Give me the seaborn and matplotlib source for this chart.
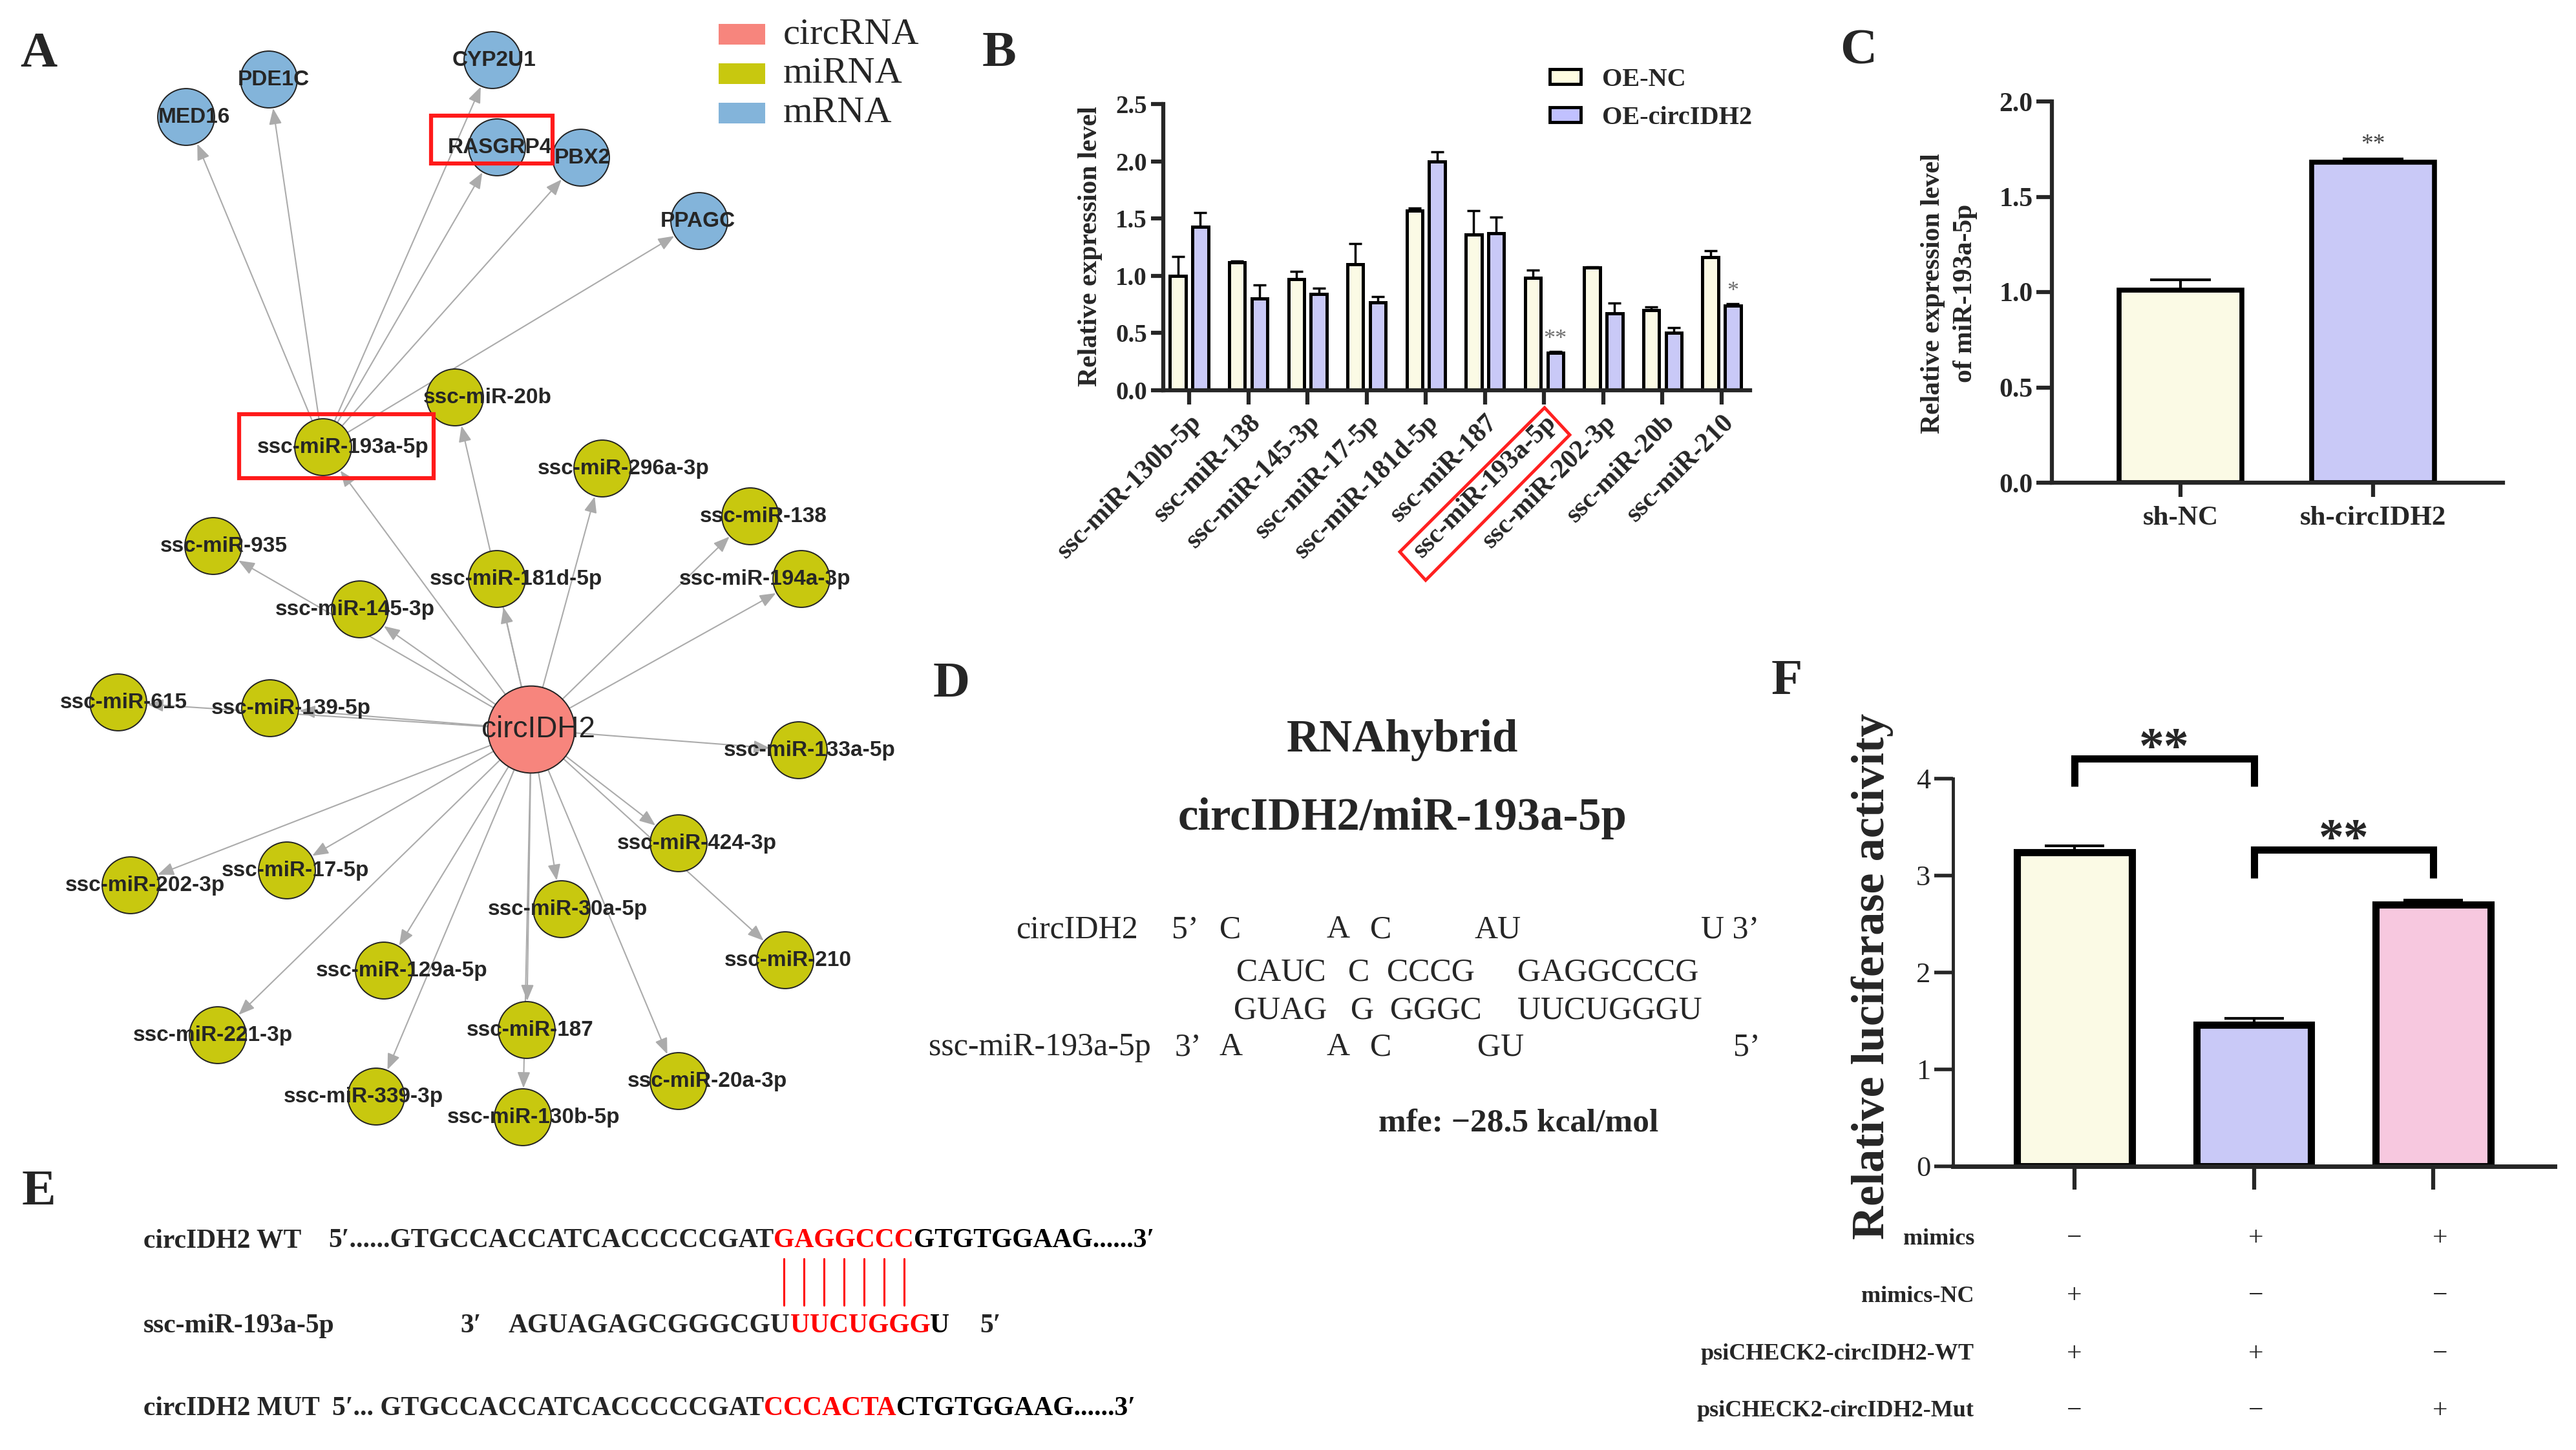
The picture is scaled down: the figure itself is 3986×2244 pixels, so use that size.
import matplotlib
matplotlib.use("Agg")
import matplotlib.pyplot as plt
import matplotlib.patches as mpatches
from matplotlib import font_manager
import seaborn as sns
import pandas as pd
import numpy as np

# ---------------- data ----------------
# Panel A: circRNA-miRNA-mRNA network (layout in reference pixels)
node_names = ["circIDH2",
              "ssc-miR-20b", "ssc-miR-193a-5p", "ssc-miR-296a-3p", "ssc-miR-138", "ssc-miR-935",
              "ssc-miR-181d-5p", "ssc-miR-194a-3p", "ssc-miR-145-3p", "ssc-miR-615", "ssc-miR-139-5p",
              "ssc-miR-133a-5p", "ssc-miR-424-3p", "ssc-miR-202-3p", "ssc-miR-17-5p", "ssc-miR-30a-5p",
              "ssc-miR-210", "ssc-miR-129a-5p", "ssc-miR-221-3p", "ssc-miR-187", "ssc-miR-20a-3p",
              "ssc-miR-339-3p", "ssc-miR-130b-5p",
              "MED16", "PDE1C", "CYP2U1", "RASGRP4", "PBX2", "PPAGC"]
node_kind = ["circRNA"] + ["miRNA"] * 22 + ["mRNA"] * 6
node_x = [822, 704, 500, 932, 1161, 330, 769, 1240, 557, 183, 418, 1236, 1050, 202, 444, 869,
          1215, 594, 337, 815, 1050, 582, 809, 288, 416, 762, 769, 899, 1082]
node_y = [1129, 615, 692, 725, 799, 845, 896, 896, 943, 1087, 1096, 1161, 1305, 1370, 1347, 1407,
          1486, 1502, 1602, 1594, 1673, 1697, 1729, 181, 123, 93, 228, 244, 342]
label_x = [833, 754, 531, 965, 1181, 346, 798, 1184, 549, 191, 450, 1253, 1078, 224, 457, 878,
           1219, 622, 329, 820, 1094, 562, 826, 300, 423, 765, 773, 901, 1080]
hub_mirna = "ssc-miR-193a-5p"
kind_colors = {"circRNA": "#F7857D", "miRNA": "#C8C80F", "mRNA": "#83B4DA"}

# Panel B
b_mirnas = ["ssc-miR-130b-5p", "ssc-miR-138", "ssc-miR-145-3p", "ssc-miR-17-5p", "ssc-miR-181d-5p",
            "ssc-miR-187", "ssc-miR-193a-5p", "ssc-miR-202-3p", "ssc-miR-20b", "ssc-miR-210"]
b_nc = [1.00, 1.12, 0.97, 1.10, 1.57, 1.36, 0.98, 1.07, 0.70, 1.16]
b_nc_err = [0.17, 0.01, 0.07, 0.18, 0.02, 0.21, 0.07, 0.01, 0.03, 0.06]
b_oe = [1.43, 0.80, 0.84, 0.77, 2.00, 1.37, 0.33, 0.67, 0.50, 0.74]
b_oe_err = [0.12, 0.12, 0.05, 0.05, 0.08, 0.14, 0.01, 0.09, 0.05, 0.015]
b_sig = ["", "", "", "", "", "", "**", "", "", "*"]
b_groups = ["OE-NC", "OE-circIDH2"]

# Panel C
c_groups = ["sh-NC", "sh-circIDH2"]
c_vals = [1.01, 1.68]
c_err = [0.055, 0.02]

# Panel F
f_vals = [3.24, 1.46, 2.70]
f_err = [0.07, 0.065, 0.045]
f_brackets = [(0, 1, 4.21, 3.92), (1, 2, 3.27, 2.975)]
f_rows = ["mimics", "mimics-NC", "psiCHECK2-circIDH2-WT", "psiCHECK2-circIDH2-Mut"]
f_signs = [["−", "+", "+"], ["+", "−", "−"], ["+", "+", "−"], ["−", "−", "+"]]

cream, lavender, pink = "#FFFDE1", "#C1C1FF", "#FFC0DF"

# ---------------- style ----------------
W, H = 3986, 2244
sns.set_style("ticks")
serif = ["Liberation Serif", "DejaVu Serif"]
plt.rcParams["font.family"] = serif
names = {f.name for f in font_manager.fontManager.ttflist}
if "Liberation Sans Narrow" in names:
    net_family, net_size, hub_size = "Liberation Sans Narrow", 28, 38
else:
    net_family, net_size, hub_size = "Liberation Sans", 24, 33

fig = plt.figure(figsize=(W / 100, H / 100), dpi=100)


def rect(l, t, r, b):
    return [l / W, 1 - b / H, (r - l) / W, (b - t) / H]


# overlay in reference pixel coordinates
ov = fig.add_axes([0, 0, 1, 1])

# ---------------- A: network ----------------
nodes = pd.DataFrame({"name": node_names, "kind": node_kind, "x": node_x, "y": node_y})
pos = dict(zip(node_names, zip(node_x, node_y)))
kind_of = dict(zip(node_names, node_kind))
rad = {"circRNA": 48, "miRNA": 31.5, "mRNA": 31.5}
edges = [("circIDH2", n) for n, k in zip(node_names, node_kind) if k == "miRNA"]
edges += [(hub_mirna, n) for n, k in zip(node_names, node_kind) if k == "mRNA"]
for s, d in edges:
    ov.annotate("", xy=pos[d], xytext=pos[s],
                arrowprops=dict(arrowstyle="-|>,head_length=0.75,head_width=0.3", color="#ababab",
                                lw=1.5, shrinkA=rad[kind_of[s]], shrinkB=rad[kind_of[d]] + 1,
                                mutation_scale=20), zorder=1)
sns.scatterplot(data=nodes, x="x", y="y", hue="kind", size="kind",
                sizes={"circRNA": 9400, "miRNA": 4000, "mRNA": 4000},
                palette=kind_colors, edgecolor="#222222", linewidth=1.4, legend=False, ax=ov, zorder=3)
for n, k, lx, y in zip(node_names, node_kind, label_x, node_y):
    if k == "circRNA":
        ov.text(lx, y, n, ha="center", va="center", family=net_family, fontsize=hub_size, zorder=4)
    else:
        ov.text(lx, y, n, ha="center", va="center", family=net_family, fontweight="bold",
                fontsize=net_size, zorder=4)
ov.add_patch(mpatches.Rectangle((667, 179), 188, 74, fill=False, ec="#ff1a1a", lw=4.5, zorder=5))
ov.add_patch(mpatches.Rectangle((370, 641), 301, 99, fill=False, ec="#ff1a1a", lw=4.5, zorder=5))
for i, k in enumerate(["circRNA", "miRNA", "mRNA"]):
    y0 = 37 + i * 61
    ov.add_patch(mpatches.Rectangle((1112, y0), 72, 32, color=kind_colors[k], lw=0))
    ov.text(1212, y0 + 16, k, ha="left", va="center", fontsize=42)

# ---------------- D: RNAhybrid ----------------
ov.text(2170, 1145, "RNAhybrid", ha="center", va="center", fontsize=51, fontweight="bold")
ov.text(2170, 1266, "circIDH2/miR-193a-5p", ha="center", va="center", fontsize=51, fontweight="bold")
d_rows = [
    (1439, [("circIDH2", 1761, "right"), ("5’", 1813, "left"), ("C", 1887, "left"), ("A", 2053, "left"),
            ("C", 2120, "left"), ("AU", 2282, "left"), ("U 3’", 2632, "left")]),
    (1505, [("CAUC", 1913, "left"), ("C", 2086, "left"), ("CCCG", 2146, "left"), ("GAGGCCCG", 2348, "left")]),
    (1564, [("GUAG", 1909, "left"), ("G", 2090, "left"), ("GGGC", 2151, "left"), ("UUCUGGGU", 2348, "left")]),
    (1621, [("ssc-miR-193a-5p", 1781, "right"), ("3’", 1818, "left"), ("A", 1887, "left"), ("A", 2053, "left"),
            ("C", 2120, "left"), ("GU", 2286, "left"), ("5’", 2682, "left")]),
]
for y, toks in d_rows:
    for t, x, ha in toks:
        ov.text(x, y, t, ha=ha, va="center", fontsize=36)
ov.text(2133, 1739, "mfe: −28.5 kcal/mol", ha="left", va="center", fontsize=37, fontweight="bold")

# ---------------- E: sequences ----------------
ef = dict(fontsize=30, fontweight="bold", family=serif)


def chain(first, pieces):
    prev = first
    for txt, col in pieces:
        prev = ov.annotate(txt, xy=(1, 0), xycoords=prev, ha="left", va="bottom", color=col, **ef)
    return prev


ov.text(222, 1920, "circIDH2 WT", ha="left", va="center", **ef)
wt = ov.text(508, 1920, "5′......GTGCCACCATCACCCCCGAT", ha="left", va="center", **ef)
red_wt = ov.annotate("GAGGCCC", xy=(1, 0), xycoords=wt, ha="left", va="bottom", color="red", **ef)
chain(red_wt, [("GTGTGGAAG......3′", "black")])

ov.text(222, 2052, "ssc-miR-193a-5p", ha="left", va="center", **ef)
ov.text(712, 2052, "3′", ha="left", va="center", **ef)
mi = ov.text(787, 2052, "AGUAGAGCGGGCGU", ha="left", va="center", **ef)
chain(mi, [("UUCUGGG", "red"), ("U", "black")])
ov.text(1516, 2052, "5′", ha="left", va="center", **ef)

ov.text(222, 2180, "circIDH2 MUT", ha="left", va="center", **ef)
mu = ov.text(514, 2180, "5′... GTGCCACCATCACCCCCGAT", ha="left", va="center", **ef)
chain(mu, [("CCCACTA", "red"), ("CTGTGGAAG......3′", "black")])

# panel letters
for letter, x, y in [("A", 60, 84), ("B", 1546, 83), ("C", 2876, 80), ("D", 1472, 1059),
                     ("E", 60, 1845), ("F", 2765, 1055)]:
    ov.text(x, y, letter, ha="center", va="center", fontsize=57, fontweight="bold")

# red box around B tick label
ov.add_patch(mpatches.Polygon([(2166, 854), (2206, 898), (2429, 673), (2390, 631)], closed=True,
                              fill=False, ec="#ff2020", lw=3.5))

# F table
row_y = [1917, 2006, 2096, 2184]
col_x = [3210, 3491, 3776]
for lbl, y, signs in zip(f_rows, row_y, f_signs):
    ov.text(3055, y, lbl, ha="right", va="center", fontsize=26, fontweight="bold")
    for x, s in zip(col_x, signs):
        ov.text(x, y, s, ha="center", va="center", fontsize=30)

ov.set_xlim(0, W)
ov.set_ylim(H, 0)
ov.axis("off")

# ---------------- B ----------------
axB = fig.add_axes(rect(1800, 161, 2708, 604))
axB.set_facecolor("none")
dfB = pd.DataFrame({"miRNA": b_mirnas * 2, "group": [b_groups[0]] * 10 + [b_groups[1]] * 10,
                    "value": b_nc + b_oe})
sns.barplot(data=dfB, x="miRNA", y="value", hue="group", palette=[cream, lavender], width=0.76, gap=0.3,
            edgecolor="black", linewidth=3.6, errorbar=None, legend=False, ax=axB, zorder=2)
for cont, err in zip(axB.containers, [b_nc_err, b_oe_err]):
    xs = [p.get_x() + p.get_width() / 2 for p in cont]
    ys = [p.get_height() for p in cont]
    axB.errorbar(xs, ys, yerr=[np.zeros(len(err)), err], fmt="none", ecolor="black", elinewidth=2.5,
                 capsize=7, capthick=2.5, zorder=1)
oe_x = [p.get_x() + p.get_width() / 2 for p in axB.containers[1]]
for x, v, e, s in zip(oe_x, b_oe, b_oe_err, b_sig):
    if s:
        axB.text(x, v + e + 0.01, s, ha="center", va="bottom", fontsize=26, color="#6e6e6e")
axB.set_xlim(-0.437, 9.48)
axB.set_ylim(0, 2.5)
axB.set_yticks(np.arange(0, 2.51, 0.5))
axB.set_yticklabels([f"{v:.1f}" for v in np.arange(0, 2.51, 0.5)], fontsize=28, fontweight="bold")
axB.set_xticks(range(len(b_mirnas)))
axB.set_xticklabels(b_mirnas, rotation=45, ha="right", va="top", rotation_mode="anchor",
                    fontsize=30, fontweight="bold")
axB.set_xlabel("")
axB.set_ylabel("Relative expression level", fontsize=30, fontweight="bold", va="center")
axB.yaxis.set_label_coords(-0.124, 0.503)
sns.despine(ax=axB)
for sp in ["left", "bottom"]:
    axB.spines[sp].set_linewidth(4.5)
axB.tick_params(axis="x", length=16, width=4.5, pad=6)
axB.tick_params(axis="y", length=14, width=4.5, pad=4)
handles = [mpatches.Patch(facecolor=c, edgecolor="black", linewidth=3.5, label=g)
           for c, g in zip([cream, lavender], b_groups)]
axB.legend(handles=handles, loc="upper left", bbox_to_anchor=(2398 / W, 1 - 105 / H),
           bbox_transform=fig.transFigure, frameon=False, handlelength=1.2, handleheight=0.5,
           labelspacing=0.55, handletextpad=0.8, borderpad=0, borderaxespad=0,
           prop=dict(family=serif, weight="bold", size=29))

# ---------------- C ----------------
axC = fig.add_axes(rect(3175, 157, 3873, 747))
axC.set_facecolor("none")
sns.barplot(x=c_groups, y=c_vals, hue=c_groups, palette=[cream, lavender], width=0.635,
            edgecolor="black", linewidth=5.5, legend=False, ax=axC, zorder=2)
cx = [p.get_x() + p.get_width() / 2 for p in axC.patches]
axC.errorbar(cx, c_vals, yerr=[np.zeros(2), c_err], fmt="none", ecolor="black", elinewidth=3,
             capsize=34, capthick=3, zorder=1)
axC.text(cx[1], c_vals[1] + c_err[1] + 0.015, "**", ha="center", va="bottom", fontsize=27,
         color="#444444")
axC.set_xlim(-0.668, 1.674)
axC.set_ylim(0, 2.0)
axC.set_yticks(np.arange(0, 2.01, 0.5))
axC.set_yticklabels([f"{v:.1f}" for v in np.arange(0, 2.01, 0.5)], fontsize=30, fontweight="bold")
axC.set_xticks([0, 1])
axC.set_xticklabels(c_groups, fontsize=31, fontweight="bold")
axC.set_ylabel("Relative expression level\nof miR-193a-5p", fontsize=30, fontweight="bold",
               va="center", linespacing=1.4)
axC.yaxis.set_label_coords(-0.228, 0.497)
sns.despine(ax=axC)
for sp in ["left", "bottom"]:
    axC.spines[sp].set_linewidth(4.5)
axC.tick_params(axis="x", length=16, width=4.5, pad=10)
axC.tick_params(axis="y", length=17, width=4.5, pad=4)

# ---------------- F ----------------
axF = fig.add_axes(rect(3022, 1205, 3953, 1805))
axF.set_facecolor("none")
f_x = [0, 1, 2]
sns.barplot(x=f_x, y=f_vals, hue=f_x, palette=[cream, lavender, pink], width=0.64,
            edgecolor="black", linewidth=8, legend=False, ax=axF, zorder=2)
fx = [p.get_x() + p.get_width() / 2 for p in axF.patches]
axF.errorbar(fx, f_vals, yerr=[np.zeros(3), f_err], fmt="none", ecolor="black", elinewidth=3,
             capsize=33, capthick=3, zorder=1)
for x1, x2, top, low in f_brackets:
    axF.plot([x1, x1, x2, x2], [low, top, top, low], color="black", lw=8, clip_on=False,
             solid_joinstyle="miter", solid_capstyle="butt")
    axF.text((x1 + x2) / 2, top - 0.04, "**", ha="center", va="baseline", fontsize=56,
             fontweight="bold", clip_on=False)
axF.set_xlim(-0.677, 2.677)
axF.set_ylim(0, 4)
axF.set_yticks(range(5))
axF.set_yticklabels([str(v) for v in range(5)], fontsize=32)
axF.set_xticks(f_x)
axF.set_xticklabels(["", "", ""])
axF.set_ylabel("Relative luciferase activity", fontsize=52, fontweight="bold", va="center")
axF.yaxis.set_label_coords(-0.134, 0.49)
sns.despine(ax=axF)
axF.spines["left"].set_linewidth(3.5)
axF.spines["bottom"].set_linewidth(5)
axF.tick_params(axis="x", length=26, width=4.5)
axF.tick_params(axis="y", length=21, width=4, pad=4)

# red pairing lines in E, under each red base of the WT row
fig.canvas.draw()
bb = red_wt.get_window_extent()
(x0, _), (x1, _) = ov.transData.inverted().transform([[bb.x0, bb.y0], [bb.x1, bb.y1]])
step = (x1 - x0) / 7
for i in range(7):
    xc = x0 + (i + 0.5) * step
    ov.plot([xc, xc], [1948, 2020], color="red", lw=2.2)
ov.set_xlim(0, W)
ov.set_ylim(H, 0)

fig.savefig("out.png", dpi=100)
